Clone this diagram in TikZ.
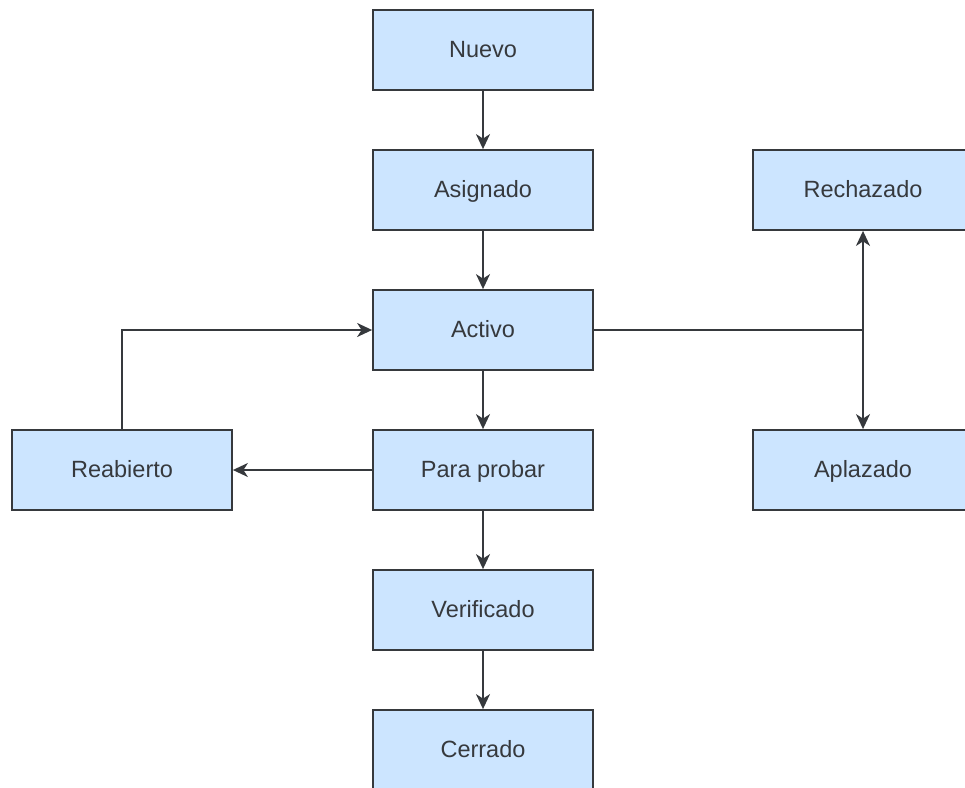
\documentclass[tikz,border=0pt]{standalone}
\usepackage{fontspec}
\setmainfont{Liberation Sans}
\usetikzlibrary{arrows.meta}

\definecolor{boxfill}{HTML}{CCE5FF}
\definecolor{boxline}{HTML}{36393D}

\tikzset{
  estado/.style={draw=boxline, fill=boxfill, line width=1.8pt, minimum width=220pt,
    minimum height=80pt, inner sep=0pt, text=boxline, text height=18.5pt, text depth=3.5pt},
  flecha/.style={draw=boxline, line width=1.8pt, -{Stealth[length=15pt, width=14pt, inset=4.5pt]}}
}

\begin{document}
\begin{tikzpicture}[x=1pt, y=-1pt, font=\fontsize{23.5}{28}\selectfont]
  \clip (0,0) rectangle (965,787);

  \node[estado] (nuevo)      at (483, 50)  {Nuevo};
  \node[estado] (asignado)   at (483, 190) {Asignado};
  \node[estado] (activo)     at (483, 330) {Activo};
  \node[estado] (probar)     at (483, 470) {Para probar};
  \node[estado] (verificado) at (483, 610) {Verificado};
  \node[estado] (cerrado)    at (483, 750) {Cerrado};

  \node[estado] (reabierto)  at (122, 470) {Reabierto};
  \node[estado] (rechazado)  at (863, 190) {Rechazado};
  \node[estado] (aplazado)   at (863, 470) {Aplazado};

  %main line
  \draw[flecha] (nuevo) -- (asignado);
  \draw[flecha] (asignado) -- (activo);
  \draw[flecha] (activo) -- (probar);
  \draw[flecha] (probar) -- (verificado);
  \draw[flecha] (verificado) -- (cerrado);

  %loops
  \draw[flecha] (probar.west) -- (reabierto.east);
  \draw[flecha] (reabierto.north) |- (activo.west);
  \draw[flecha] (activo.east) -| (rechazado.south);
  \draw[flecha] (activo.east) -| (aplazado.north);

\end{tikzpicture}
\end{document}
